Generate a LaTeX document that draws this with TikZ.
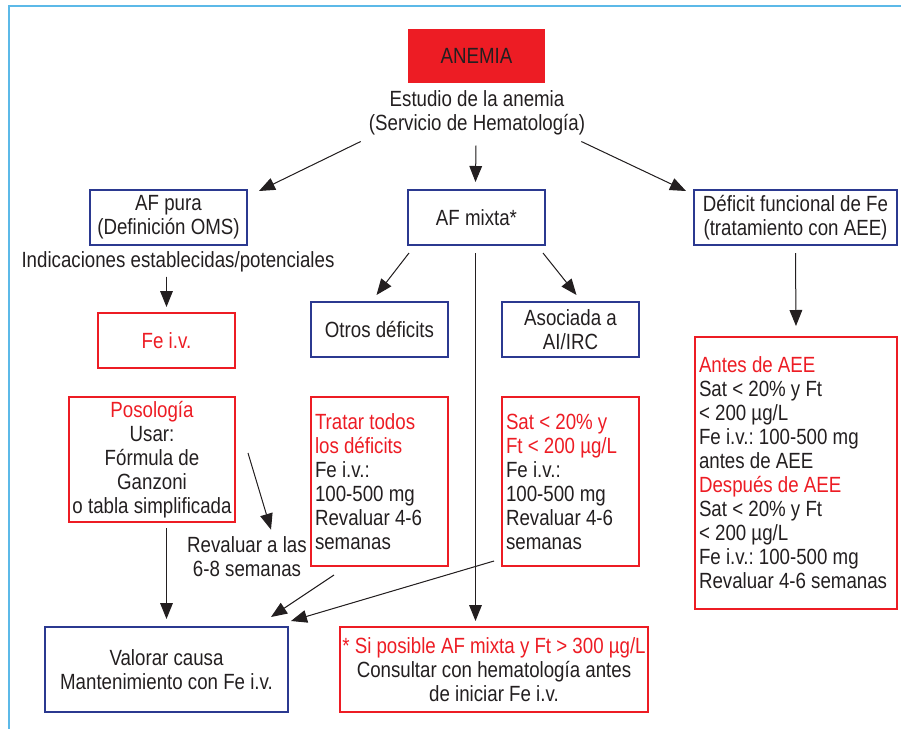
\documentclass[tikz,border=0pt]{standalone}
\usepackage{fontspec}
\setmainfont{Liberation Sans}[FakeStretch=0.85]
\usetikzlibrary{arrows.meta}
\definecolor{afred}{HTML}{ED1C24}
\definecolor{afblue}{HTML}{2B3990}
\definecolor{frameblue}{HTML}{5CB9E8}
\definecolor{txt}{HTML}{231F20}
\newcommand{\rt}[1]{\textcolor{afred}{#1}}
\frenchspacing

\begin{document}
\begin{tikzpicture}[
  x=0.75pt, y=-0.75pt,
  >={Triangle[length=12pt,width=9.5pt]},
  every node/.style={font=\fontsize{16.5}{18}\selectfont, text=txt},
  bluebox/.style={draw=afblue, line width=1.5pt, align=center, inner sep=0pt},
  redbox/.style={draw=afred, line width=1.5pt, align=center, inner sep=0pt},
  leftbox/.style={draw=afred, line width=1.5pt, align=flush left, inner xsep=3pt, inner ysep=0pt},
  note/.style={align=center, inner sep=0pt},
  link/.style={->, line width=0.75pt, draw=txt, fill=txt}
]
\useasboundingbox (0,0) rectangle (901,729);
\draw[frameblue, line width=1.5pt] (9,729) -- (9,6) -- (901,6);

\node[fill=afred, minimum width=102.75pt, minimum height=40.5pt, inner sep=0pt] (anemia) at (476.5,56) {ANEMIA};
\node[note] (estudio) at (477,113) {Estudio de la anemia\\(Servicio de Hematología)};

\node[bluebox, minimum width=117.75pt, minimum height=41.25pt] (afpura) at (168.5,217.5) {AF pura\\(Definición OMS)};
\node[bluebox, minimum width=102.75pt, minimum height=41.25pt] (afmixta) at (476.5,217.5) {AF mixta*};
\node[bluebox, minimum width=152.25pt, minimum height=41.25pt] (deficit) at (795.5,217.5) {Déficit funcional de Fe\\(tratamiento con AEE)};

\node[note] (indic) at (178,262) {Indicaciones establecidas/potenciales};
\node[redbox, minimum width=102.75pt, minimum height=41.25pt] (feiv) at (166.5,340.5) {\rt{Fe i.v.}};
\node[bluebox, minimum width=102.75pt, minimum height=41.25pt] (otros) at (379.5,329.5) {Otros déficits};
\node[bluebox, minimum width=102.75pt, minimum height=41.25pt] (asociada) at (570.5,329.5) {Asociada a\\AI/IRC};

\node[redbox, minimum width=124.5pt, minimum height=93.75pt] (posologia) at (152,459.5)
  {\rt{Posología}\\Usar:\\Fórmula de\\Ganzoni\\o tabla simplificada};
\node[leftbox, text width=96.75pt, minimum height=126.75pt] (tratar) at (379.5,481.5)
  {\rt{Tratar todos}\\\rt{los déficits}\\Fe i.v.:\\100-500 mg\\Revaluar 4-6\\semanas};
\node[leftbox, text width=96.75pt, minimum height=126.75pt] (sat) at (570.5,481.5)
  {\rt{Sat < 20\% y}\\\rt{Ft < 200 µg/L}\\Fe i.v.:\\100-500 mg\\Revaluar 4-6\\semanas};
\node[leftbox, text width=145.5pt, minimum height=204pt] (antes) at (796,473)
  {\rt{Antes de AEE}\\Sat < 20\% y Ft\\< 200 µg/L\\Fe i.v.: 100-500 mg\\antes de AEE\\
   \rt{Después de AEE}\\Sat < 20\% y Ft\\< 200 µg/L\\Fe i.v.: 100-500 mg\\Revaluar 4-6 semanas};

\node[note] (revaluar) at (247,557) {Revaluar a las\\6-8 semanas};

\node[bluebox, minimum width=182.25pt, minimum height=63.75pt] (valorar) at (166.5,669.5)
  {Valorar causa\\Mantenimiento con Fe i.v.};
\node[redbox, minimum width=231pt, minimum height=63.75pt] (sipos) at (494,669.5)
  {\rt{* Si posible AF mixta y Ft > 300 µg/L}\\Consultar con hematología antes\\de iniciar Fe i.v.};

\draw[link] ([shift={(-8,6)}]estudio.south west) -- ([shift={(11,2)}]afpura.north east);
\draw[link] ([shift={(-1,10)}]estudio.south) -- ([shift={(-1,-7)}]afmixta.north);
\draw[link] ([shift={(-4,6)}]estudio.south east) -- ([shift={(-7,2)}]deficit.north west);
\draw[link] ([shift={(0,4)}]feiv.north |- indic.south) -- ([shift={(0,-5)}]feiv.north);
\draw[link] ([shift={(2,7)}]afmixta.south west) -- ([shift={(-3,-6)}]otros.north);
\draw[link] ([shift={(-3,7)}]afmixta.south east) -- ([shift={(6,-6)}]asociada.north);
\draw[link] ([shift={(-1,7)}]afmixta.south) -- ([shift={(-1,-5)}]afmixta.south |- sipos.north);
\draw[link] ([shift={(0,7)}]deficit.south) -- ([shift={(0,-10)}]antes.north);
\draw[link] ([shift={(12,-6.5)}]posologia.east) -- ([shift={(24,-7)}]revaluar.north);
\draw[link] ([shift={(0,5)}]valorar.north |- posologia.south) -- ([shift={(0,-7)}]valorar.north);
\draw[link] ([shift={(24,8)}]tratar.south west) -- ([shift={(-18,-9)}]valorar.north east);
\draw[link] ([shift={(-7,-6)}]sat.south west) -- ([shift={(2,-5)}]valorar.north east);
\end{tikzpicture}
\end{document}
